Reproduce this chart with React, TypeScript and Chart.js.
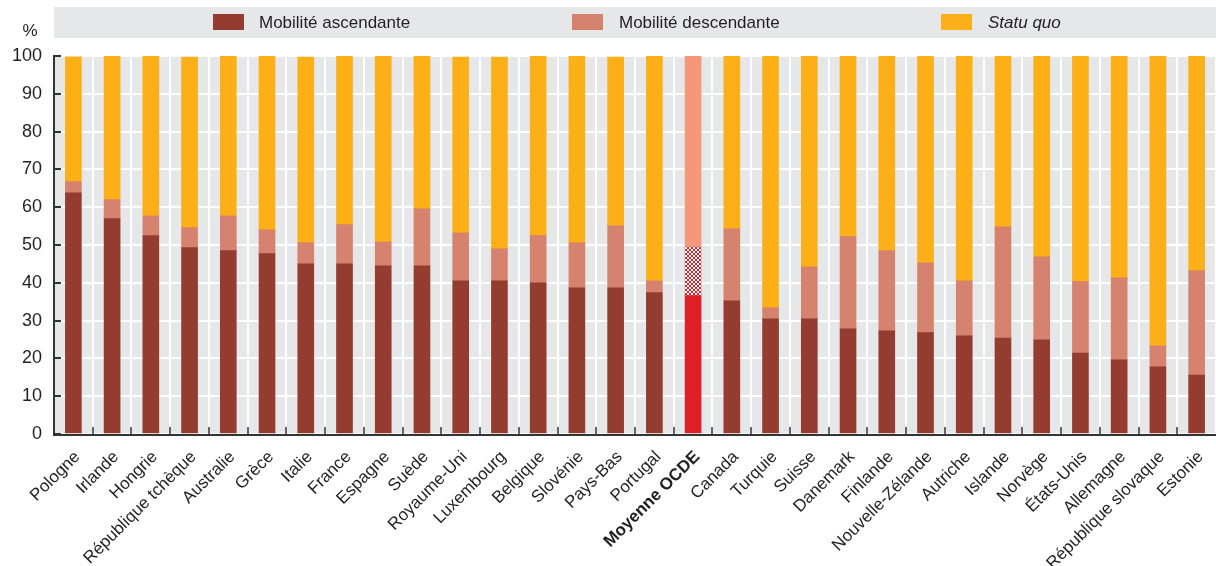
import React, { useEffect, useRef } from 'react';
import { Chart, registerables } from 'chart.js';

Chart.register(...registerables);

const categories = [
  'Pologne', 'Irlande', 'Hongrie', 'République tchèque', 'Australie', 'Grèce', 'Italie', 'France',
  'Espagne', 'Suède', 'Royaume-Uni', 'Luxembourg', 'Belgique', 'Slovénie', 'Pays-Bas', 'Portugal',
  'Moyenne OCDE', 'Canada', 'Turquie', 'Suisse', 'Danemark', 'Finlande', 'Nouvelle-Zélande',
  'Autriche', 'Islande', 'Norvège', 'États-Unis', 'Allemagne', 'République slovaque', 'Estonie',
];

const ascendante = [
  63.8, 57.0, 52.5, 49.3, 48.5, 47.7, 45.0, 45.0, 44.5, 44.5, 40.5, 40.5, 40.0, 38.7, 38.7, 37.4,
  36.6, 35.2, 30.5, 30.5, 27.8, 27.3, 26.8, 26.0, 25.4, 24.9, 21.4, 19.6, 17.8, 15.6,
];

const descendante = [
  3.0, 5.0, 5.2, 5.3, 9.2, 6.3, 5.6, 10.4, 6.3, 15.1, 12.7, 8.5, 12.5, 11.9, 16.4, 3.1,
  12.9, 19.1, 2.9, 13.7, 24.4, 21.2, 18.5, 14.5, 29.4, 22.0, 18.9, 21.7, 5.5, 27.6,
];

const statuQuo = [
  33.0, 38.0, 42.3, 45.1, 42.3, 46.0, 49.1, 44.6, 49.2, 40.4, 46.5, 50.7, 47.5, 49.4, 44.6, 59.5,
  50.5, 45.7, 66.6, 55.8, 47.8, 51.5, 54.7, 59.5, 45.2, 53.1, 59.7, 58.7, 76.7, 56.8,
];

const seriesLabels = ['Mobilité ascendante', 'Mobilité descendante', 'Statu quo'];
const yMin = 0;
const yMax = 100;
const yStep = 10;

const OECD_INDEX = categories.indexOf('Moyenne OCDE');

const FONT = "'Liberation Sans', Arial, sans-serif";
const TEXT = '#231f20';
const C_ASC = '#943c2f';
const C_DESC = '#d5826f';
const C_SQ = '#fcaf17';
const C_OECD_ASC = '#df1f26';
const C_OECD_SQ = '#f5977a';
const PANEL = '#e6e7e8';

function makeHatch(): CanvasPattern | string {
  const c = document.createElement('canvas');
  c.width = 4;
  c.height = 4;
  const g = c.getContext('2d');
  if (!g) return C_OECD_ASC;
  const img = g.createImageData(4, 4);
  for (let y = 0; y < 4; y++) {
    for (let x = 0; x < 4; x++) {
      const red = x === y || x + y === 3;
      const i = (y * 4 + x) * 4;
      img.data[i] = red ? 223 : 255;
      img.data[i + 1] = red ? 31 : 255;
      img.data[i + 2] = red ? 38 : 255;
      img.data[i + 3] = 255;
    }
  }
  g.putImageData(img, 0, 0);
  return g.createPattern(c, 'repeat') || C_OECD_ASC;
}

export default function App() {
  const ref = useRef<HTMLCanvasElement | null>(null);

  useEffect(() => {
    document.body.style.margin = '0';
    const canvas = ref.current;
    if (!canvas) return;
    const hatch = makeHatch();

    const decor = {
      id: 'decor',
      beforeDraw(chart: any) {
        const { ctx, chartArea } = chart;
        ctx.save();
        ctx.fillStyle = PANEL;
        ctx.fillRect(chartArea.left, chartArea.top, chartArea.right - chartArea.left, chartArea.bottom - chartArea.top);
        // legend panel
        ctx.fillRect(chartArea.left, 7, chart.width - chartArea.left, 31);
        const items = [
          { x: 213, tx: 259, color: C_ASC, label: seriesLabels[0], italic: false },
          { x: 572, tx: 619, color: C_DESC, label: seriesLabels[1], italic: false },
          { x: 941, tx: 988, color: C_SQ, label: seriesLabels[2], italic: true },
        ];
        ctx.textBaseline = 'middle';
        ctx.textAlign = 'left';
        for (const it of items) {
          ctx.fillStyle = it.color;
          ctx.fillRect(it.x, 14, 31, 16);
          ctx.fillStyle = TEXT;
          ctx.font = `${it.italic ? 'italic ' : ''}17px ${FONT}`;
          ctx.fillText(it.label, it.tx, 23);
        }
        ctx.font = `17px ${FONT}`;
        ctx.textAlign = 'center';
        ctx.fillText('%', 30, 31);
        ctx.restore();
      },
      afterDatasetsDraw(chart: any) {
        const { ctx, chartArea, scales } = chart;
        ctx.save();
        // y tick marks (inward)
        ctx.strokeStyle = '#333333';
        ctx.lineWidth = 2;
        for (let v = yMin; v <= yMax; v += yStep) {
          const y = Math.round(scales.y.getPixelForValue(v));
          ctx.beginPath();
          ctx.moveTo(chartArea.left, y);
          ctx.lineTo(chartArea.left + 7, y);
          ctx.stroke();
        }
        // x tick marks at category boundaries (upward)
        const n = categories.length;
        const w = (chartArea.right - chartArea.left) / n;
        ctx.strokeStyle = '#666666';
        for (let i = 1; i < n; i++) {
          const x = Math.round(chartArea.left + i * w);
          ctx.beginPath();
          ctx.moveTo(x, chartArea.bottom);
          ctx.lineTo(x, chartArea.bottom - 7);
          ctx.stroke();
        }
        // axes
        ctx.strokeStyle = '#333333';
        ctx.lineWidth = 2;
        ctx.beginPath();
        ctx.moveTo(chartArea.left, chartArea.top - 1);
        ctx.lineTo(chartArea.left, chartArea.bottom + 1);
        ctx.lineTo(chartArea.right, chartArea.bottom + 1);
        ctx.stroke();
        ctx.restore();
      },
    };

    const chart = new Chart(canvas, {
      type: 'bar',
      data: {
        labels: categories,
        datasets: [
          {
            label: seriesLabels[0],
            data: ascendante,
            backgroundColor: (c: any) => (c.dataIndex === OECD_INDEX ? C_OECD_ASC : C_ASC),
            barThickness: 16,
          },
          {
            label: seriesLabels[1],
            data: descendante,
            backgroundColor: (c: any) => (c.dataIndex === OECD_INDEX ? hatch : C_DESC),
            barThickness: 16,
          },
          {
            label: seriesLabels[2],
            data: statuQuo,
            backgroundColor: (c: any) => (c.dataIndex === OECD_INDEX ? C_OECD_SQ : C_SQ),
            barThickness: 16,
          },
        ],
      },
      options: {
        responsive: true,
        maintainAspectRatio: false,
        animation: false,
        layout: { padding: { top: 56, right: 0, left: 0, bottom: 0 } },
        plugins: { legend: { display: false }, tooltip: { enabled: false } },
        scales: {
          x: {
            stacked: true,
            grid: {
              color: '#ffffff',
              lineWidth: 2,
              drawTicks: true,
              tickLength: 13,
              tickColor: 'rgba(0,0,0,0)',
              offset: true,
            },
            border: { display: false },
            ticks: {
              minRotation: 45,
              maxRotation: 45,
              autoSkip: false,
              padding: 0,
              labelOffset: 4,
              color: TEXT,
              font: (c: any) =>
                c.index === OECD_INDEX
                  ? { family: FONT, size: 17, weight: 'bold' }
                  : { family: FONT, size: 17, weight: 'normal' },
            },
            afterFit: (s: any) => {
              s.height = 132;
              s.paddingRight = 0;
              s.paddingLeft = 0;
            },
          },
          y: {
            stacked: true,
            min: yMin,
            max: yMax,
            grid: { color: '#ffffff', lineWidth: 2, drawTicks: false },
            border: { display: false },
            ticks: {
              stepSize: yStep,
              padding: 12,
              color: TEXT,
              font: { family: FONT, size: 18 },
            },
            afterFit: (s: any) => {
              s.width = 54;
            },
          },
        },
      },
      plugins: [decor],
    } as any);

    return () => chart.destroy();
  }, []);

  return (
    <div style={{ position: 'absolute', left: 0, top: 0, width: 1216, height: 566 }}>
      <canvas ref={ref} />
    </div>
  );
}
